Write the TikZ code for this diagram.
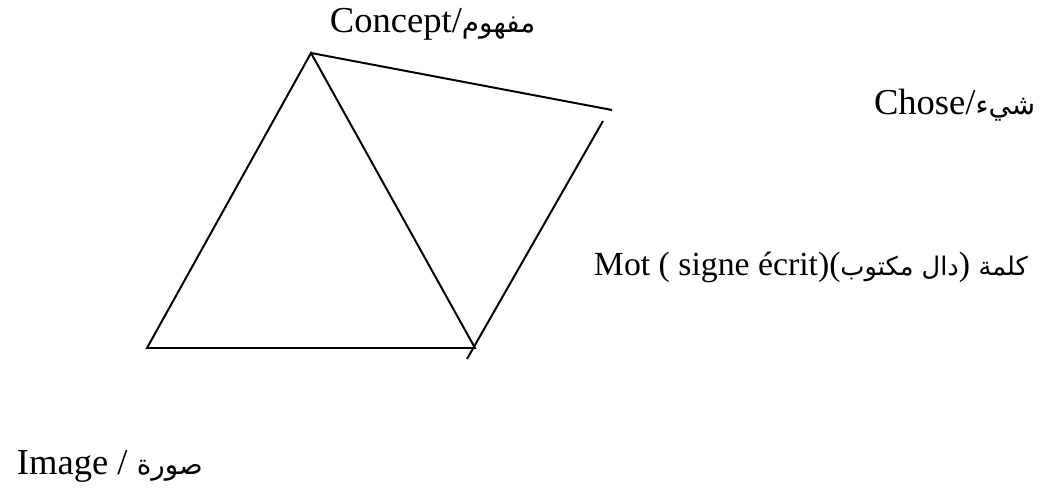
\documentclass[tikz,border=0pt]{standalone}
\usepackage{fontspec}
\setmainfont{Liberation Serif}
\newfontfamily\arabicfont[Script=Arabic,Scale=0.76]{DejaVu Sans}
\TeXXeTstate=1
\begin{document}
\begin{tikzpicture}[x=0.0125cm, y=-0.0125cm, line width=0.7pt,
    label/.style={inner sep=0pt, font=\fontsize{13}{16}\selectfont}]
        \useasboundingbox (0,0) rectangle (1050,490);
        \coordinate (concept) at (311,53);
        \coordinate (chose) at (612,110);
        \coordinate (motA) at (603,121);
        \coordinate (motB) at (467,359);
        \coordinate (imgL) at (147,348);
        \coordinate (imgR) at (475,348);
        \draw (concept)--(chose);
        \draw (concept)--(imgL)--(imgR)--cycle;
        \draw (motA)--(motB);
        \node[label, anchor=base west] (conceptlbl) at (329,33) {Concept/{\arabicfont\beginR مفهوم\endR}};
        \node[label, anchor=base west] (choselbl) at (873,115) {Chose/{\arabicfont\beginR شيء\endR}};
        \node[label, anchor=base west, font=\fontsize{12}{15}\selectfont] (motlbl) at (593,276) {Mot ( signe écrit)({\arabicfont\beginR دال مكتوب\endR}) {\arabicfont\beginR كلمة\endR}};
        \node[label, anchor=base west] (imglbl) at (16,475) {Image / {\arabicfont\beginR صورة\endR}};
    \end{tikzpicture}
\end{document}
